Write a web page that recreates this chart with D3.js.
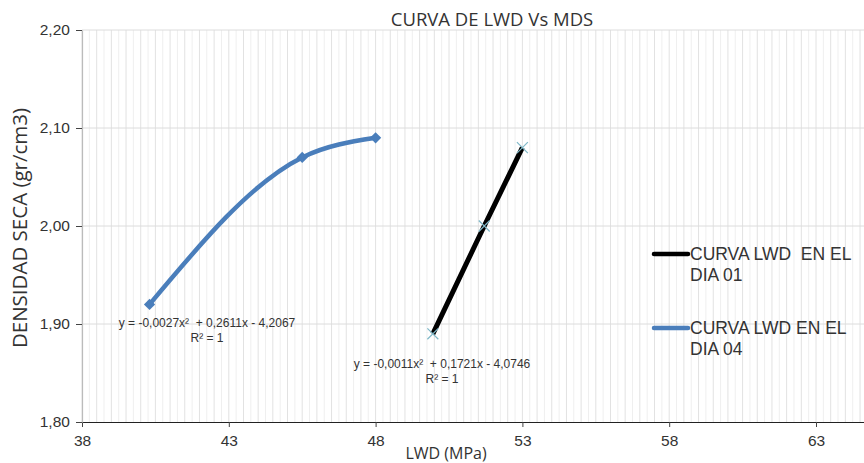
<!DOCTYPE html>
<html><head><meta charset="utf-8">
<script src="https://cdn.jsdelivr.net/npm/d3@7"></script>
<style>body{margin:0;background:#fff}svg{display:block}</style>
</head><body>
<svg id="c" width="864" height="463"></svg>
<script>
const xTicks = [38, 43, 48, 53, 58, 63];
const yTicks = [1.80, 1.90, 2.00, 2.10, 2.20];
const day01X = [49.95, 51.7, 53.0];
const day01Y = [1.89, 2.00, 2.08];
const day04X = [40.3, 45.5, 48.0];
const day04Y = [1.92, 2.07, 2.09];
const seriesNames = ["CURVA LWD  EN EL|DIA 01", "CURVA LWD EN EL|DIA 04"];
const eq01 = ["y = -0,0011x²  + 0,1721x - 4,0746", "R² = 1"];
const eq04 = ["y = -0,0027x²  + 0,2611x - 4,2067", "R² = 1"];

const svg = d3.select("#c");
const L = 82, R = 864, T = 30, B = 422;
const x = d3.scaleLinear().domain([38, 38 + (R - L) / 29.36]).range([L, R]);
const y = d3.scaleLinear().domain([1.80, 2.20]).range([B, T]);
const font = "Liberation Sans, Arial, sans-serif";
const font2 = "Open Sans, sans-serif";

// minor vertical grid
const minor = d3.range(38, x.domain()[1], 0.25);
svg.append("g").selectAll("line").data(minor).join("line")
  .attr("x1", d => x(d)).attr("x2", d => x(d)).attr("y1", T).attr("y2", B)
  .attr("stroke", (d, i) => i % 2 ? "#efefef" : "#e2e2e2").attr("stroke-width", 1);
// major horizontal grid
svg.append("g").selectAll("line").data(yTicks.slice(1)).join("line")
  .attr("x1", L).attr("x2", R).attr("y1", d => y(d)).attr("y2", d => y(d))
  .attr("stroke", "#dcdcdc").attr("stroke-width", 1);

// axes
const xa = svg.append("g").attr("transform", `translate(0,${B})`)
  .call(d3.axisBottom(x).tickValues(xTicks).tickSize(5).tickSizeOuter(0).tickFormat(d3.format("d")));
xa.select(".domain").attr("stroke", "#222").attr("stroke-width", 1.2);
xa.selectAll(".tick line").attr("stroke", "#444");
xa.selectAll("text").attr("font-family", font).attr("font-size", 15.5).attr("fill", "#333").attr("dy", "1.05em");

const ya = svg.append("g").attr("transform", `translate(${L},0)`)
  .call(d3.axisLeft(y).tickValues(yTicks).tickSize(6).tickSizeOuter(0).tickFormat(d => d3.format(".2f")(d).replace(".", ",")));
ya.select(".domain").attr("stroke", "#bbb").attr("stroke-width", 1.2);
ya.selectAll(".tick line").attr("stroke", "#444");
ya.selectAll("text").attr("font-family", font).attr("font-size", 15.5).attr("fill", "#333").attr("dx", "-0.2em");

// titles
svg.append("text").attr("x", 492).attr("y", 26).attr("text-anchor", "middle")
  .attr("font-family", font2).attr("font-size", 18.5).attr("fill", "#333")
  .text("CURVA DE LWD Vs MDS");
svg.append("text").attr("transform", `translate(27,${228}) rotate(-90)`).attr("text-anchor", "middle")
  .attr("font-family", font2).attr("font-size", 20.5).attr("fill", "#333")
  .text("DENSIDAD SECA (gr/cm3)");
svg.append("text").attr("x", 446).attr("y", 459).attr("text-anchor", "middle")
  .attr("font-family", font2).attr("font-size", 16).attr("fill", "#333")
  .text("LWD (MPa)");

// series
const line = d3.line().x(d => x(d[0])).y(d => y(d[1])).curve(d3.curveMonotoneX);
const d01 = day01X.map((v, i) => [v, day01Y[i]]);
const d04 = day04X.map((v, i) => [v, day04Y[i]]);

svg.append("path").datum(d04).attr("d", line).attr("fill", "none")
  .attr("stroke", "#4a7ebb").attr("stroke-width", 4.5).attr("stroke-linecap", "round");
svg.append("g").selectAll("path").data(d04).join("path")
  .attr("d", d3.symbol(d3.symbolDiamond2, 80)())
  .attr("transform", d => `translate(${x(d[0])},${y(d[1])})`).attr("fill", "#4a7ebb");

svg.append("path").datum(d01).attr("d", line).attr("fill", "none")
  .attr("stroke", "#000").attr("stroke-width", 5);
svg.append("g").selectAll("path").data(d01).join("path")
  .attr("d", d3.symbol(d3.symbolX, 80)())
  .attr("transform", d => `translate(${x(d[0])},${y(d[1])})`).attr("fill", "none")
  .attr("stroke", "#7fb8c8").attr("stroke-width", 1.2);

// equations
function eq(lines, cx, cy) {
  const t = svg.append("text").attr("text-anchor", "middle").attr("font-family", font)
    .attr("font-size", 12).attr("fill", "#333").attr("xml:space", "preserve");
  lines.forEach((s, i) => t.append("tspan").attr("x", cx).attr("y", cy + i * 15).text(s));
}
eq(eq04, 207, 327);
eq(eq01, 442, 368);

// legend
const leg = [[ "#000", 254 ], [ "#4a7ebb", 328 ]];
leg.forEach((l, i) => {
  svg.append("line").attr("x1", 654).attr("x2", 688).attr("y1", l[1]).attr("y2", l[1])
    .attr("stroke", l[0]).attr("stroke-width", 4.5).attr("stroke-linecap", "round");
  const t = svg.append("text").attr("font-family", font).attr("font-size", 17.5).attr("fill", "#333")
    .attr("xml:space", "preserve");
  seriesNames[i].split("|").forEach((s, j) => t.append("tspan").attr("x", 690).attr("y", l[1] + 6 + j * 21).text(s));
});
</script>
</body></html>
